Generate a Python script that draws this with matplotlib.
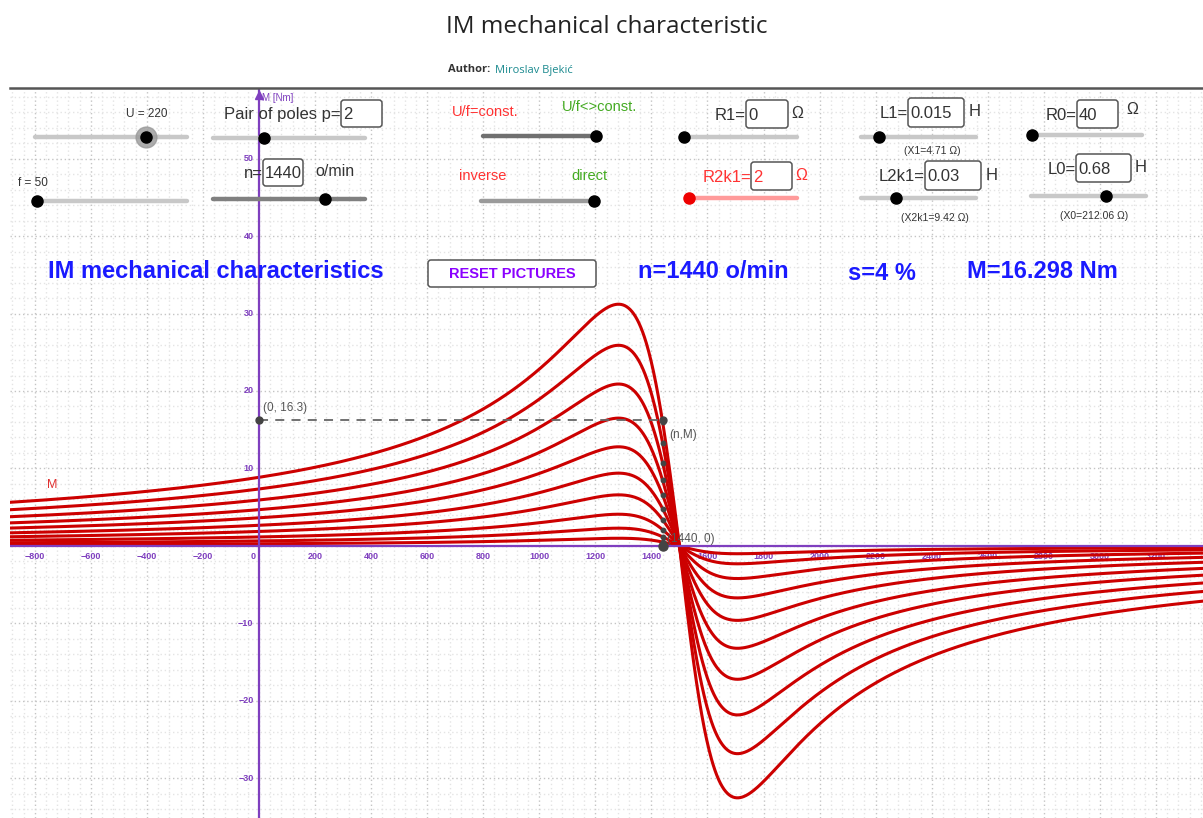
import numpy as np
import matplotlib
matplotlib.use("Agg")
import matplotlib.pyplot as plt
from matplotlib.patches import FancyBboxPatch

# curve family (U = 220 ... 40 V, torque peaks in Nm)
U_values = [220, 200, 180, 160, 140, 120, 100, 80, 60, 40]
motor_peak = [31.2, 25.9, 20.9, 16.5, 12.8, 9.4, 6.6, 4.1, 2.3, 1.0]
gen_peak = [32.5, 26.8, 21.8, 17.2, 13.2, 9.6, 6.7, 4.2, 2.3, 1.0]
n_sync = 1500
s_crit_motor = 0.145
s_crit_gen = 0.138
n_op = 1440
M_op = 16.298

xticks = [-800, -600, -400, -200, 0, 200, 400, 600, 800, 1000, 1200, 1400,
          1600, 1800, 2000, 2200, 2400, 2600, 2800, 3000, 3200, 3400]
yticks = [-30, -20, -10, 10, 20, 30, 40, 50]

W, H = 1203, 818
fig = plt.figure(figsize=(W / 100, H / 100), dpi=100)
plt.rcParams['font.family'] = ['Liberation Sans', 'DejaVu Sans']

purple = '#7f3fbf'
red = '#cc0000'

ax = fig.add_axes([10 / W, 0, (W - 10) / W, (H - 89) / H])
ax.set_xlim(-888.3, 3367.8)
ax.set_ylim(-35.1, 58.97)
ax.axis('off')

# grid
for gx in np.arange(-880, 3400, 40):
    major = gx % 200 == 0
    ax.axvline(gx, color='#c4c4c4' if major else '#e4e4e4', lw=1.0,
               ls=(0, (1, 2)), zorder=0)
for gy in np.arange(-34, 60, 2):
    major = gy % 10 == 0
    ax.axhline(gy, color='#c4c4c4' if major else '#e4e4e4', lw=1.0,
               ls=(0, (1, 2)), zorder=0)

# tick labels
for t in xticks:
    ax.annotate(str(t) if t >= 0 else '\u2212' + str(-t), (t, 0),
                xytext=(-4 if t == 0 else 0, -4), textcoords='offset points',
                ha='center', va='top', fontsize=6.5, color=purple,
                fontweight='bold', zorder=1)
for t in yticks:
    ax.annotate(str(t) if t >= 0 else '\u2212' + str(-t), (0, t),
                xytext=(-4, 0), textcoords='offset points',
                ha='right', va='center', fontsize=6.5, color=purple,
                fontweight='bold', zorder=1)

# mechanical characteristics (Kloss form with peaks)
n = np.linspace(-890, 3370, 2000)
s = (n_sync - n) / n_sync
for mk, mg in zip(motor_peak, gen_peak):
    with np.errstate(divide='ignore', invalid='ignore'):
        m_mot = 2 * mk / (s / s_crit_motor + s_crit_motor / s)
        m_gen = 2 * mg / (s / s_crit_gen + s_crit_gen / s)
    m = np.where(s >= 0, m_mot, m_gen)
    ax.plot(n, m, color=red, lw=2.2, zorder=3, solid_capstyle='round')

# axes
ax.axhline(0, color=purple, lw=1.6, zorder=4)
ax.axvline(0, color=purple, lw=1.6, zorder=4)

# operating point
s_op = (n_sync - n_op) / n_sync
ax.plot([0, n_op], [M_op, M_op], color='#666666', lw=1.3, ls=(0, (5, 4)), zorder=5)
for mk in motor_peak:
    ax.plot(n_op, 2 * mk / (s_op / s_crit_motor + s_crit_motor / s_op), 'o',
            color='#444444', ms=3.2, zorder=6)
ax.plot(0, M_op, 'o', color='#444444', ms=5, zorder=6)
ax.plot(n_op, M_op, 'o', color='#444444', ms=5, zorder=6)
ax.plot(n_op, 0, 'o', color='#444444', ms=6.5, zorder=6)
ax.annotate('(0, 16.3)', (0, M_op), xytext=(3, 6), textcoords='offset points',
            fontsize=8.5, color='#555555', zorder=7)
ax.annotate('(n,M)', (n_op, M_op), xytext=(5, -13), textcoords='offset points',
            fontsize=8.5, color='#555555', zorder=7)
ax.annotate('(1440, 0)', (n_op, 0), xytext=(3, 3), textcoords='offset points',
            fontsize=8.5, color='#555555', zorder=7)
ax.text(-755, 7.9, 'M', color='#e03030', fontsize=9, va='center', zorder=7)

# overlay in pixel coordinates for the page + controls
ov = fig.add_axes([0, 0, 1, 1])
ov.set_xlim(0, W)
ov.set_ylim(H, 0)
ov.axis('off')
ov.patch.set_alpha(0)

ov.text(607, 27, 'IM mechanical characteristic', ha='center',
        va='center', fontsize=17.5, color='#222222', family=['Open Sans', 'DejaVu Sans'])
ov.text(448, 70, 'Author:', fontsize=8, fontweight='bold', color='#333333',
        va='center', family=['Open Sans', 'DejaVu Sans'])
ov.text(495, 70, 'Miroslav Bjekić', fontsize=8, color='#1b8a8f',
        va='center', family=['Open Sans', 'DejaVu Sans'])
ov.plot([10, W], [88, 88], color='#555555', lw=1.8)

# y axis arrow and name
ov.plot(259, 95, marker='^', color=purple, ms=6, mec=purple)
ov.text(262, 98, 'M [Nm]', fontsize=7, color=purple, va='center')


def slider(x0, x1, y, knob, color='#c8c8c8', kcolor='black', halo=False):
    ov.plot([x0, x1], [y, y], color=color, lw=3.2, solid_capstyle='round', zorder=2)
    if halo:
        ov.plot(knob, y, 'o', color='#999999', ms=15, alpha=0.8, zorder=3)
    ov.plot(knob, y, 'o', color=kcolor, ms=8, zorder=4)


def box(x0, y0, x1, y1, txt, color='#333333', prefix=None, pcolor='#333333'):
    ov.add_patch(FancyBboxPatch((x0, y0), x1 - x0, y1 - y0,
                                boxstyle='round,pad=0,rounding_size=3',
                                fc='white', ec='#555555', lw=1.1, zorder=3))
    ov.text(x0 + 2, (y0 + y1) / 2 + 1, txt, fontsize=12, color=color,
            va='center', zorder=4)
    if prefix:
        ov.text(x0, (y0 + y1) / 2 + 1, prefix, fontsize=12, color=pcolor,
                ha='right', va='center', zorder=4)


def label(x, y, txt, size=11, color='#333333', ha='left'):
    ov.text(x, y, txt, fontsize=size, color=color, ha=ha, va='center', zorder=4)


label(147, 114, 'U = 220', 8.5, ha='center')
slider(35, 187, 137, 146, halo=True)
box(341, 100, 382, 127, '2', prefix='Pair of poles p=')
slider(213, 365, 138, 264)
label(18, 183, 'f = 50', 8.5)
slider(37, 187, 201, 37)
box(263, 159, 303, 186, '1440', prefix='n=')
label(315, 172, 'o/min', 11.5)
slider(213, 365, 199, 325, color='#808080')

label(452, 112, 'U/f=const.', 10.5, color='#ff3333')
label(562, 107, 'U/f<>const.', 10.5, color='#44aa22')
slider(483, 597, 136, 596, color='#707070')
label(459, 176, 'inverse', 10.5, color='#ff3333')
label(571, 176, 'direct', 10.5, color='#44aa22')
slider(481, 595, 201, 594, color='#9a9a9a')

box(746, 100, 788, 128, '0', prefix='R1=')
label(791, 114, 'Ω', 11.5)
slider(683, 797, 137, 684)
box(751, 162, 792, 190, '2', color='#ff3333', prefix='R2k1=', pcolor='#ff3333')
label(795, 176, 'Ω', 11.5, color='#ff3333')
slider(689, 797, 198, 689, color='#ff9a9a', kcolor='#ee0000')

box(908, 98, 964, 127, '0.015', prefix='L1=')
label(969, 112, 'H', 12)
slider(861, 976, 137, 879)
label(932, 151, '(X1=4.71 Ω)', 7.5, ha='center')
box(925, 161, 981, 190, '0.03', prefix='L2k1=')
label(986, 175, 'H', 12)
slider(861, 976, 198, 896)
label(935, 218, '(X2k1=9.42 Ω)', 7.5, ha='center')

box(1077, 100, 1118, 128, '40', prefix='R0=')
label(1126, 110, 'Ω', 11.5)
slider(1029, 1142, 135, 1032)
box(1076, 154, 1131, 182, '0.68', prefix='L0=')
label(1135, 168, 'H', 12)
slider(1031, 1146, 196, 1106)
label(1094, 216, '(X0=212.06 Ω)', 7.5, ha='center')

# heading row
blue = '#1a1aff'
ov.text(48, 272, 'IM mechanical characteristics', fontsize=17, fontweight='bold',
        color=blue, va='center', zorder=4)
ov.add_patch(FancyBboxPatch((428, 260), 168, 27, boxstyle='round,pad=0,rounding_size=3',
                            fc='white', ec='#555555', lw=1.1, zorder=3))
ov.text(512, 274, 'RESET PICTURES', fontsize=10.5, fontweight='bold',
        color='#8a00ff', ha='center', va='center', zorder=4)
ov.text(638, 272, 'n=1440 o/min', fontsize=17, fontweight='bold', color=blue,
        va='center', zorder=4)
ov.text(848, 273, 's=4 %', fontsize=17, fontweight='bold', color=blue,
        va='center', zorder=4)
ov.text(967, 272, 'M=16.298 Nm', fontsize=17, fontweight='bold', color=blue,
        va='center', zorder=4)

fig.savefig('out.png', dpi=100)
